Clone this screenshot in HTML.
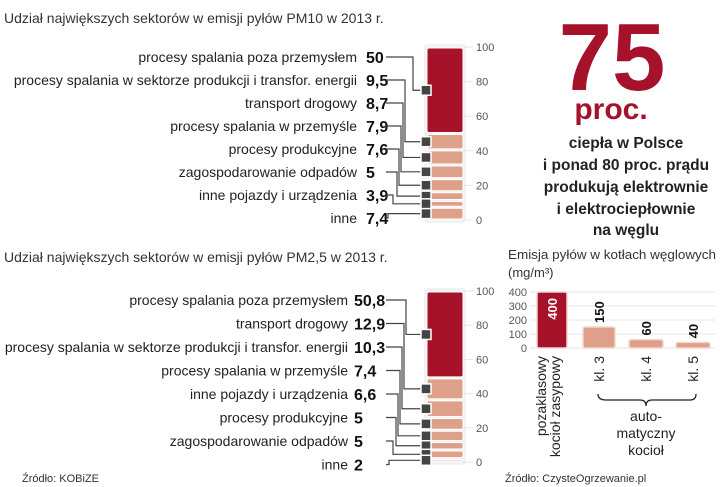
<!DOCTYPE html>
<html><head><meta charset="utf-8">
<style>
html,body{margin:0;padding:0;background:#fff;}
svg{display:block;font-family:"Liberation Sans Narrow","Liberation Sans",sans-serif;}
</style></head>
<body>
<svg id="c" width="720" height="487" viewBox="0 0 720 487" xmlns="http://www.w3.org/2000/svg">
<text x="4" y="23" font-size="14" fill="#333">Udział największych sektorów w emisji pyłów PM10 w 2013 r.</text>
<text x="4" y="262" font-size="14" fill="#333">Udział największych sektorów w emisji pyłów PM2,5 w 2013 r.</text>
<text x="612" y="90" font-size="96" font-weight="bold" fill="#a5122a" text-anchor="middle">75</text>
<text x="611" y="119" font-size="30" font-weight="bold" fill="#a5122a" text-anchor="middle">proc.</text>
<g font-size="15.5" font-weight="bold" fill="#222" text-anchor="middle">
<text x="626" y="148">ciepła w Polsce</text>
<text x="626" y="170">i ponad 80 proc. prądu</text>
<text x="626" y="192">produkują elektrownie</text>
<text x="626" y="214">i elektrociepłownie</text>
<text x="626" y="235">na węglu</text>
</g>
<text x="508" y="259" font-size="13" fill="#333" textLength="208" lengthAdjust="spacingAndGlyphs">Emisja pyłów w kotłach węglowych</text>
<text x="508" y="277" font-size="13" fill="#333">(mg/m³)</text>
<text x="22" y="482" font-size="11" fill="#333">Źródło: KOBiZE</text>
<text x="505" y="482" font-size="11" fill="#333">Źródło: CzysteOgrzewanie.pl</text>
<g id="g"></g>
</svg>
<script>
const pm10Labels=["procesy spalania poza przemysłem","procesy spalania w sektorze produkcji i transfor. energii","transport drogowy","procesy spalania w przemyśle","procesy produkcyjne","zagospodarowanie odpadów","inne pojazdy i urządzenia","inne"];
const pm10Values=[50,9.5,8.7,7.9,7.6,5,3.9,7.4];
const pm10Printed=["50","9,5","8,7","7,9","7,6","5","3,9","7,4"];
const pm25Labels=["procesy spalania poza przemysłem","transport drogowy","procesy spalania w sektorze produkcji i transfor. energii","procesy spalania w przemyśle","inne pojazdy i urządzenia","procesy produkcyjne","zagospodarowanie odpadów","inne"];
const pm25Values=[50.8,12.9,10.3,7.4,6.6,5,5,2];
const pm25Printed=["50,8","12,9","10,3","7,4","6,6","5","5","2"];
const axisTicks=[0,20,40,60,80,100];
const boilerCats=["pozaklasowy kocioł zasypowy","kl. 3","kl. 4","kl. 5"];
const boilerValues=[400,150,60,40];
const boilerTicks=[0,100,200,300,400];

const NS="http://www.w3.org/2000/svg";
const G=document.getElementById('g');
function el(t,a,p){const e=document.createElementNS(NS,t);for(const k in a)e.setAttribute(k,a[k]);(p||G).appendChild(e);return e;}
const DARK="#a5122a",LIGHT="#dfa08a";

function stack(cfg){
  const y=v=>cfg.y0-(v/100)*(cfg.y0-cfg.y100);
  const g=el('g',{});
  
  
  el('rect',{x:cfg.x-3,y:cfg.y100-3,width:cfg.w+6,height:cfg.y0-cfg.y100+6,fill:"#f2f2f2",rx:3},g);
  axisTicks.forEach(t=>{
    el('line',{x1:cfg.x+cfg.w,x2:cfg.x+cfg.w+10,y1:y(t),y2:y(t),stroke:"#e6e6e6"},g);
    const tx=el('text',{x:cfg.x+cfg.w+13,y:y(t)+4,'font-size':11,fill:"#555"},g);
    tx.textContent=t;
    
    
  });
  let top=100;
  cfg.values.forEach((v,i)=>{
    const y1=y(top),y2=y(top-v);
    const r=el('rect',{x:cfg.x,y:y1+1,width:cfg.w,height:Math.max(1,y2-y1-2),rx:2,fill:i==0?DARK:LIGHT,stroke:"#fff","stroke-width":1},g);
    
    
    top-=v;
  });
  top=100;
  cfg.values.forEach((v,i)=>{
    const ly=cfg.rows[0]+i*cfg.step;
    const my=y(top-v/2);
    top-=v;
    const lt=el('text',{x:cfg.labelEnd,y:ly+5,'font-size':14,fill:"#222",'text-anchor':'end'},g);
    lt.textContent=cfg.labels[i];
    
    
    const vt=el('text',{x:cfg.valX,y:ly+6,'font-size':16,'font-weight':'bold',fill:"#111"},g);
    vt.textContent=cfg.printed[i];
    
    
    const xs=cfg.bendX[i];
    el('polyline',{points:`${cfg.lineX0},${ly} ${xs},${ly} ${xs},${my} ${cfg.x-2},${my}`,fill:"none",stroke:"#444","stroke-width":1.2},g);
    const m=el('rect',{x:cfg.x-6,y:my-5,width:10,height:10,fill:"#444",stroke:"#fff","stroke-width":1.5},g);
    
    
  });
}
stack({name:'pm10-stack',x:427,w:36,y100:47,y0:220,values:pm10Values,labels:pm10Labels,printed:pm10Printed,
  rows:[57],step:23,labelEnd:357,valX:366,lineX0:386,bendX:[413,405,403,401,399,397,393,388]});
stack({name:'pm25-stack',x:427,w:36,y100:291,y0:462,values:pm25Values,labels:pm25Labels,printed:pm25Printed,
  rows:[300],step:23.5,labelEnd:348,valX:354,lineX0:386,bendX:[406,404,402,400,398,396,393,389]});

const by=v=>348-v*(56/400);
const bg=el('g',{});


boilerTicks.forEach(t=>{
  el('line',{x1:530,x2:715,y1:by(t),y2:by(t),stroke:"#e6e6e6"},bg);
  const tx=el('text',{x:527,y:by(t)+4,'font-size':11,fill:"#555",'text-anchor':'end'},bg);
  tx.textContent=t;
  
  
});
const bxs=[537,583,629,676],bws=[30,32,34,34];
boilerValues.forEach((v,i)=>{
  const h=348-by(v);
  const r=el('rect',{x:bxs[i],y:by(v),width:bws[i],height:Math.max(5,h),rx:2,fill:i==0?DARK:LIGHT,stroke:"#f3d6cc","stroke-width":1.5},bg);
  
  
  const cx=bxs[i]+bws[i]/2;
  const ty=i==0?by(v)+6:by(v)-4;
  const t=el('text',{x:0,y:0,'font-size':13,'font-weight':'bold',fill:i==0?"#fff":"#111",'text-anchor':i==0?'end':'start',transform:`translate(${cx+5},${ty}) rotate(-90)`},bg);
  t.textContent=v;
  
  
});
const xl=[["pozaklasowy","kocioł zasypowy"],["kl. 3"],["kl. 4"],["kl. 5"]];
xl.forEach((ls,i)=>{
  const cx=bxs[i]+bws[i]/2;
  ls.forEach((s,j)=>{
    const off=ls.length==2?(j==0?-6:8):5;
    const t=el('text',{x:0,y:0,'font-size':14,fill:"#222",'text-anchor':'end',transform:`translate(${cx+off},${356}) rotate(-90)`},bg);
    t.textContent=s;
    
    
  });
});
el('path',{d:"M598,394 Q598,400 606,400 L640,400 Q646,400 646,406 Q646,400 652,400 L690,400 Q696,400 696,394",fill:"none",stroke:"#222","stroke-width":1.3},bg);
[["auto-",421],["matyczny",438],["kocioł",455]].forEach(a=>{
  const t=el('text',{x:646,y:a[1],'font-size':14,fill:"#222",'text-anchor':'middle'},bg);
  t.textContent=a[0];
  
  
});
</script>
</body></html>
